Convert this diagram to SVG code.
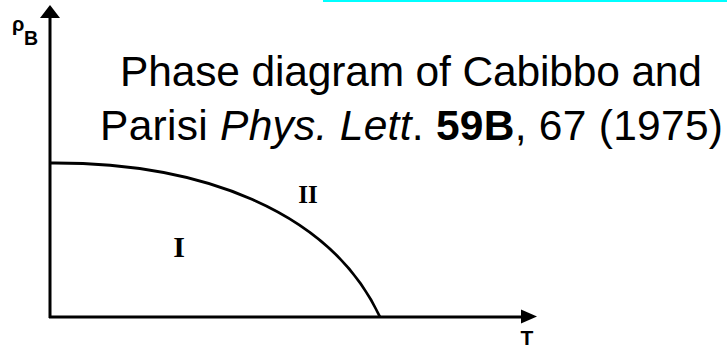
<svg xmlns="http://www.w3.org/2000/svg" width="727" height="350" viewBox="0 0 727 350">
  <defs>
    <style>
      .ax { stroke: #000; stroke-width: 3; fill: none; }
      .curve { stroke: #000; stroke-width: 2.8; fill: none; }
      .title { font-family: "Liberation Sans", Arial, sans-serif; font-size: 42.5px; fill: #000; text-anchor: middle; }
      .lbl { font-family: "Liberation Sans", Arial, sans-serif; font-weight: bold; fill: #000; }
      .roman { font-family: "Liberation Serif", "Times New Roman", serif; font-weight: bold; fill: #000; text-anchor: middle; }
    </style>
  </defs>
  <rect width="727" height="350" fill="#fff"/>
  <line x1="323" y1="1" x2="727" y2="1" stroke="#00ffff" stroke-width="2"/>
  <g id="connectors">
    <line class="ax" x1="50" y1="318" x2="50" y2="16"/>
    <polygon points="50,5 40,18 60,18" fill="#000"/>
    <line class="ax" x1="49" y1="317" x2="522" y2="317"/>
    <polygon points="537,316.5 521,309.5 521,323.5" fill="#000"/>
    <path class="curve" d="M50,163 C200,162 330,210 380,317"/>
  </g>
  <g id="axis-labels">
    <text class="lbl" x="12" y="31" font-size="20">ρ</text>
    <text class="lbl" x="24" y="45" font-size="19.5">B</text>
    <text class="lbl" x="527" y="345" font-size="21" text-anchor="middle">T</text>
  </g>
  <g id="regions">
    <text class="roman" x="179" y="257" font-size="30">I</text>
    <text class="roman" x="308" y="203" font-size="25">II</text>
  </g>
  <g id="title">
    <text class="title" x="411" y="86" textLength="582" lengthAdjust="spacing">Phase diagram of Cabibbo and</text>
    <text class="title" x="411.5" y="140" textLength="623" lengthAdjust="spacing">Parisi  <tspan font-style="italic">Phys. Lett</tspan>. <tspan font-weight="bold">59B</tspan>, 67 (1975)</text>
  </g>
</svg>
